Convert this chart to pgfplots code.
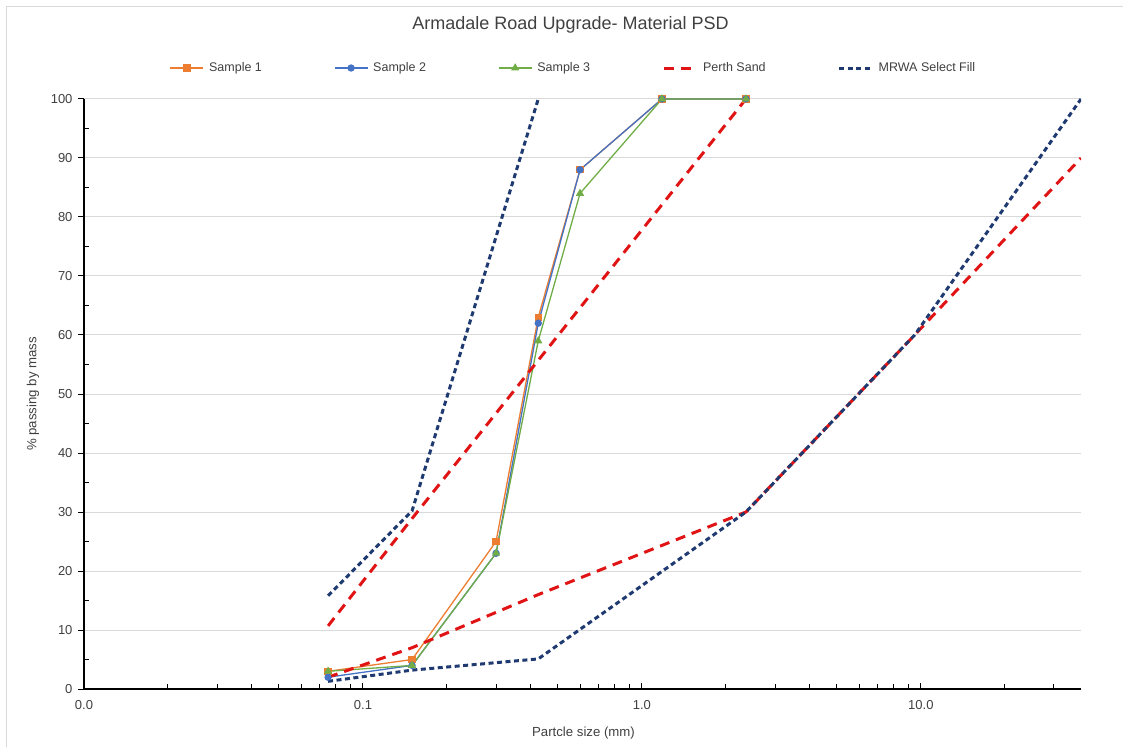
\documentclass[border=0pt]{standalone}
\usepackage{pgfplots}
\pgfplotsset{compat=1.18}
\usepackage{fontspec}
\setmainfont{Liberation Sans}
\definecolor{sone}{HTML}{ED7D31}
\definecolor{stwo}{HTML}{4472C4}
\definecolor{sthree}{HTML}{70AD47}
\definecolor{perth}{HTML}{E01414}
\definecolor{mrwa}{HTML}{1F3A70}
\definecolor{gridc}{HTML}{D9D9D9}
\definecolor{txt}{HTML}{404040}
\begin{document}
\begin{tikzpicture}[x=1pt,y=1pt]
\path[use as bounding box] (-84,-58) rectangle (1039,689);
\draw[gridc,line width=1pt] (-77,-58) -- (-77,682) -- (1039,682);
\begin{axis}[
  at={(0,0)}, anchor=south west,
  scale only axis, width=997pt, height=590pt,
  xmode=log, xmin=0.01, xmax=37.5,
  ymin=0, ymax=100,
  xtick={0.01,0.1,1,10},
  xticklabels={0.0,0.1,1.0,10.0},
  minor xtick={0.02,0.03,0.04,0.05,0.06,0.07,0.08,0.09,0.2,0.3,0.4,0.5,0.6,0.7,0.8,0.9,2,3,4,5,6,7,8,9,20,30},
  ytick={0,10,...,100},
  minor y tick num=1,
  /pgf/number format/assume math mode=true,
  axis x line*=bottom, axis y line*=left,
  axis line style={black, line width=1.2pt, -},
  xtick align=inside, ytick align=outside,
  major tick length=6pt, minor tick length=5pt,
  tick style={black, line width=1pt},
  minor y tick style={xshift=5pt},
  ymajorgrids, major y grid style={gridc, line width=1pt},
  tick label style={font=\fontsize{13}{15}\selectfont, text=txt},
  xticklabel style={yshift=-8pt},
  yticklabel style={xshift=-2pt},
  title={Armadale Road Upgrade- Material PSD},
  title style={at={(axis description cs:0.488,1.115)}, anchor=center, font=\fontsize{18}{20}\selectfont, text=txt},
  xlabel={Partcle size (mm)},
  ylabel={\% passing by mass},
  every axis x label/.style={at={(axis description cs:0.501,-0.0746)}, anchor=center},
  every axis y label/.style={at={(axis description cs:-0.0512,0.5)}, anchor=center, rotate=90},
  label style={font=\fontsize{13.2}{15}\selectfont, text=txt},
  legend columns=5,
  legend style={draw=none, fill=none, at={(axis description cs:0.491,1.0525)}, anchor=center,
    font=\fontsize{12.5}{14}\selectfont, text=txt,
    /tikz/every even column/.append style={column sep=70pt},
    /tikz/every odd column/.append style={column sep=3pt},
    nodes={inner sep=2pt}},
  legend image code/.code={\draw[mark repeat=2,mark phase=2,#1] plot coordinates {(0pt,0pt) (16.5pt,0pt) (33pt,0pt)};},
  legend cell align=left,
]
\addplot[sone, line width=1.3pt, mark=square*, mark size=3pt, mark options={solid}] coordinates {
(0.075,3) (0.15,5) (0.3,25) (0.425,63) (0.6,88) (1.18,100) (2.36,100)};
\addlegendentry{Sample 1}
\addplot[stwo, line width=1.3pt, mark=*, mark size=3pt, mark options={solid}] coordinates {
(0.075,2) (0.15,4) (0.3,23) (0.425,62) (0.6,88) (1.18,100) (2.36,100)};
\addlegendentry{Sample 2}
\addplot[sthree, line width=1.3pt, mark=triangle*, mark size=3.5pt, mark options={solid}] coordinates {
(0.075,3) (0.15,4) (0.3,23) (0.425,59) (0.6,84) (1.18,100) (2.36,100)};
\addlegendentry{Sample 3}
\addplot[perth, line width=3pt, dash pattern=on 10pt off 7pt] coordinates {
(0.075,2) (0.15,7) (0.425,16) (2.36,30) (9.5,60) (37.5,90)};
\addlegendentry{Perth Sand}
\addplot[perth, line width=3pt, dash pattern=on 10pt off 7pt, forget plot] coordinates {
(0.075,10.7) (0.15,28.9) (0.425,55.7) (2.36,100)};
\addplot[mrwa, line width=3pt, dash pattern=on 5pt off 3.5pt] coordinates {
(0.075,1.3) (0.15,3.2) (0.425,5.1) (2.36,30) (9.5,60) (37.5,100)};
\addlegendentry{MRWA Select Fill}
\addplot[mrwa, line width=3pt, dash pattern=on 5pt off 3.5pt, forget plot] coordinates {
(0.075,15.8) (0.15,30.2) (0.425,100)};
\end{axis}
\end{tikzpicture}
\end{document}
